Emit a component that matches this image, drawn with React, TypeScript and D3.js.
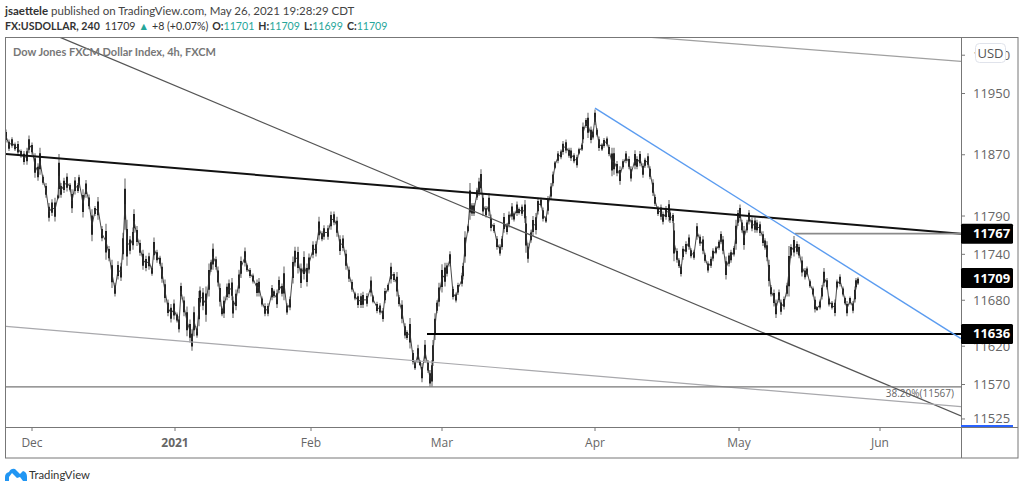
import { useMemo } from 'react';
import * as d3 from 'd3';

const WIDTH = 1024;
const HEIGHT = 490;
const FONT = '"Open Sans", "Noto Sans", sans-serif';
const HEADER_FONT = 'Lato, "Open Sans", sans-serif';
const PANE = { left: 6, right: 961, top: 37, bottom: 427, outerRight: 1018, outerBottom: 458 };

const barNums = [
    0, 3, 6, 9, 12, 15, 18, 21, 23, 26, 29, 32, 34, 37, 40, 43, 46, 49, 52, 53, 55, 58, 61, 64, 66, 69, 72, 73, 77, 80, 83, 86, 89, 92,
    96, 100, 103, 106, 109, 112, 115, 117, 119, 121, 124, 127, 128, 131, 134, 137, 140, 143, 146, 148, 151, 154, 156, 159, 162, 165, 168, 171, 173,
    175, 178, 181, 184, 186, 188, 191, 193, 194, 197, 200, 203, 205, 207, 210, 212, 214, 216, 218, 221, 223, 226, 227, 230, 233, 235, 239, 241, 244,
    247, 251, 253, 256, 259, 262, 266, 268, 271, 273, 276, 278, 281, 284, 287, 289, 292, 295, 298, 301, 303, 307, 310, 313, 316, 318, 322, 325, 328,
    331, 334, 337, 340, 343, 346, 349, 352, 355, 357, 361, 365, 367, 371, 374, 377, 379, 382, 385, 388, 391, 393, 396, 399, 401, 404, 407, 409, 412,
    414, 416, 419, 422, 424, 426, 427, 429, 431, 433, 436, 439, 441, 444, 447, 450, 452, 456, 457, 459, 462, 464, 466, 468, 471, 473, 475, 477, 480,
    483, 485, 488, 491, 494, 496, 498, 501, 503, 506, 508, 511, 513, 516, 519, 520, 522, 525, 527, 530, 532, 535, 537, 540, 542, 545, 547, 549, 552,
    555, 557, 560, 563, 565, 568, 571, 573, 576, 577, 580, 582, 585, 587, 589, 591, 593, 596, 598, 601, 603, 606, 608, 611, 614, 617, 620, 623, 625,
    629, 631, 634, 637, 639, 642, 644, 647, 649, 652, 655, 657, 660, 663, 664, 667, 668, 671, 673, 675, 677, 680, 683, 685, 688, 691, 694, 697, 699,
    702, 705, 707, 710, 713, 715, 717, 720, 723, 725, 728, 730, 732, 734, 736, 738, 741, 743, 746, 749, 751, 754, 757, 759, 761, 763, 765, 768, 770,
    773, 775, 778, 781, 783, 785, 788, 791, 793, 796, 799, 801, 804, 807, 809, 811, 814, 816, 818, 821, 823, 826, 829, 831, 834, 837, 839, 841, 844,
    847, 849, 850, 852,
];
const highs = [
    11903, 11890, 11893, 11886, 11888, 11877, 11875, 11879, 11895, 11886, 11872, 11859, 11879, 11844, 11833, 11807, 11812, 11814, 11818, 11871, 11833, 11840, 11846, 11833, 11825, 11841, 11833, 11844, 11825, 11837, 11818, 11799, 11803, 11815,
    11777, 11780, 11751, 11733, 11703, 11731, 11729, 11768, 11839, 11785, 11764, 11775, 11799, 11777, 11759, 11746, 11738, 11742, 11725, 11762, 11746, 11738, 11729, 11707, 11681, 11675, 11681, 11664, 11659,
    11703, 11685, 11672, 11655, 11642, 11672, 11646, 11692, 11698, 11696, 11698, 11728, 11733, 11754, 11737, 11724, 11702, 11672, 11685, 11702, 11707, 11709, 11685, 11694, 11720, 11737, 11749, 11728, 11722,
    11715, 11707, 11709, 11685, 11676, 11676, 11700, 11694, 11694, 11711, 11702, 11724, 11676, 11685, 11737, 11750, 11750, 11728, 11744, 11728, 11741, 11757, 11757, 11789, 11770, 11778, 11778, 11796, 11796,
    11789, 11765, 11765, 11746, 11724, 11707, 11691, 11689, 11689, 11691, 11689, 11711, 11687, 11678, 11676, 11670, 11696, 11702, 11729, 11717, 11717, 11687, 11680, 11650, 11641, 11657, 11615, 11600, 11622,
    11602, 11598, 11628, 11602, 11589, 11602, 11628, 11663, 11680, 11703, 11727, 11729, 11729, 11744, 11698, 11690, 11703, 11716, 11729, 11770, 11779, 11833, 11807, 11807, 11827, 11840, 11851, 11820, 11803,
    11820, 11792, 11781, 11764, 11753, 11764, 11794, 11781, 11796, 11807, 11796, 11809, 11801, 11805, 11811, 11790, 11755, 11772, 11790, 11794, 11814, 11814, 11801, 11790, 11816, 11833, 11848, 11862, 11875,
    11877, 11888, 11890, 11879, 11879, 11872, 11870, 11879, 11885, 11912, 11918, 11925, 11907, 11903, 11929, 11905, 11894, 11885, 11892, 11894, 11883, 11879, 11879, 11862, 11855, 11864, 11875, 11868, 11855,
    11876, 11868, 11875, 11859, 11866, 11872, 11855, 11838, 11818, 11803, 11805, 11796, 11803, 11811, 11798, 11794, 11781, 11748, 11735, 11727, 11751, 11757, 11766, 11748, 11746, 11781, 11766, 11764, 11742,
    11731, 11737, 11748, 11751, 11759, 11770, 11764, 11737, 11742, 11746, 11751, 11785, 11798, 11805, 11785, 11777, 11785, 11798, 11788, 11788, 11785, 11783, 11770, 11761, 11757, 11733, 11700, 11694, 11681,
    11694, 11681, 11685, 11703, 11751, 11753, 11764, 11757, 11753, 11737, 11722, 11724, 11707, 11698, 11685, 11672, 11681, 11700, 11722, 11709, 11685, 11679, 11681, 11707, 11714, 11698, 11685, 11679, 11685,
    11679, 11698, 11709, 11710,
];
const lows = [
    11886, 11875, 11879, 11875, 11869, 11866, 11857, 11857, 11872, 11870, 11840, 11836, 11844, 11831, 11814, 11783, 11790, 11783, 11812, 11814, 11814, 11820, 11822, 11822, 11794, 11818, 11820, 11827, 11788, 11814, 11799, 11757, 11790, 11785,
    11757, 11733, 11731, 11696, 11685, 11707, 11705, 11733, 11772, 11725, 11740, 11746, 11768, 11751, 11738, 11720, 11718, 11720, 11712, 11733, 11729, 11725, 11703, 11677, 11659, 11651, 11655, 11651, 11638,
    11681, 11659, 11633, 11625, 11614, 11633, 11631, 11646, 11672, 11667, 11652, 11685, 11717, 11720, 11720, 11698, 11672, 11659, 11657, 11680, 11683, 11680, 11657, 11667, 11689, 11709, 11724, 11717, 11709,
    11702, 11685, 11685, 11672, 11659, 11659, 11680, 11683, 11670, 11689, 11685, 11680, 11661, 11667, 11702, 11724, 11715, 11696, 11707, 11698, 11715, 11735, 11737, 11759, 11757, 11759, 11759, 11772, 11778,
    11763, 11739, 11744, 11720, 11704, 11691, 11680, 11670, 11670, 11670, 11672, 11685, 11676, 11663, 11661, 11652, 11676, 11691, 11702, 11704, 11685, 11672, 11650, 11630, 11628, 11617, 11596, 11589, 11598,
    11594, 11573, 11598, 11585, 11567, 11567, 11594, 11628, 11663, 11672, 11690, 11698, 11711, 11724, 11681, 11677, 11687, 11698, 11707, 11729, 11768, 11785, 11790, 11790, 11811, 11816, 11820, 11790, 11788,
    11790, 11770, 11768, 11746, 11738, 11746, 11768, 11766, 11775, 11785, 11783, 11790, 11792, 11790, 11781, 11742, 11729, 11755, 11764, 11766, 11792, 11801, 11783, 11781, 11792, 11811, 11829, 11851, 11859,
    11864, 11870, 11872, 11866, 11862, 11859, 11853, 11870, 11875, 11885, 11905, 11892, 11885, 11890, 11909, 11894, 11875, 11875, 11879, 11881, 11868, 11842, 11844, 11842, 11831, 11851, 11859, 11851, 11835,
    11851, 11851, 11855, 11840, 11853, 11853, 11838, 11816, 11803, 11790, 11785, 11779, 11785, 11783, 11781, 11781, 11731, 11729, 11722, 11711, 11733, 11740, 11746, 11735, 11733, 11759, 11751, 11740, 11729,
    11716, 11722, 11731, 11740, 11746, 11753, 11740, 11707, 11724, 11729, 11737, 11746, 11777, 11783, 11768, 11746, 11768, 11779, 11770, 11768, 11768, 11764, 11751, 11746, 11731, 11698, 11685, 11672, 11657,
    11677, 11661, 11668, 11685, 11685, 11735, 11737, 11740, 11735, 11711, 11707, 11711, 11696, 11685, 11664, 11666, 11668, 11681, 11698, 11694, 11672, 11668, 11659, 11694, 11698, 11685, 11674, 11659, 11674,
    11663, 11677, 11694, 11700,
];

// axis contents
const yTicks = [12000, 11950, 11870, 11790, 11740, 11680, 11620, 11570, 11525];
const monthLabels = ['Dec', '2021', 'Feb', 'Mar', 'Apr', 'May', 'Jun'];
const monthBars = [26, 169, 305, 436, 589, 733, 874];
const markerPrices = [11767, 11709, 11636];

// drawings on the chart, as [bar, price] ends
const lastBar = 955;
const trendLines = [
    { from: [53, 12024], to: [lastBar, 11529], color: '#555', w: 1.2 },
    { from: [639, 12024], to: [lastBar, 11992], color: '#a0a0a0', w: 1.2 },
    { from: [0, 11871], to: [lastBar, 11767], color: '#111', w: 2 },
    { from: [0, 11646], to: [lastBar, 11541], color: '#a8a8ac', w: 1.2 },
    { from: [0, 11567], to: [lastBar, 11567], color: '#777', w: 1.2 },
    { from: [421, 11636], to: [lastBar, 11636], color: '#000', w: 2 },
    { from: [789, 11767], to: [lastBar, 11767], color: '#8a8a8a', w: 1.6 },
    { from: [589, 11931], to: [lastBar, 11630], color: '#5b9cf0', w: 1.4 },
];

const App = () => {
    const xScale = useMemo(() => d3.scaleLinear().domain([0, lastBar]).range([PANE.left, PANE.right]), []);
    const yScale = useMemo(() => d3.scaleLinear().domain([11570, 11950]).range([384.5, 93.5]), []);

    const midPath = useMemo(() => {
        return d3
            .line<number>()
            .x((d) => xScale(d))
            .y((_, i) => yScale((highs[i] + lows[i]) / 2))(barNums);
    }, [xScale, yScale]);

    return (
        <svg
            width={WIDTH}
            height={HEIGHT}
            viewBox={`0 0 ${WIDTH} ${HEIGHT}`}
            style={{ position: 'fixed', left: 0, top: 0, background: '#fff' }}
            fontFamily={FONT}
        >
            {/* header */}
            <text x={5} y={15} fontSize={11.5} fill="#444" fontFamily={HEADER_FONT}>
                <tspan fontWeight={700} fill="#333">jsaettele</tspan> published on TradingView.com, May 26, 2021 19:28:29 CDT
            </text>
            <text x={5} y={29.5} fontSize={10.6} fill="#333" fontFamily={HEADER_FONT}>
                <tspan fontWeight={700}>FX:USDOLLAR, 240</tspan>
                <tspan dx={5}>11709</tspan>
                <tspan dx={3} fill="#26a69a">▲</tspan>
                <tspan dx={3}>+8 (+0.07%)</tspan>
                <tspan dx={4} fontWeight={700}>O:</tspan>
                <tspan fill="#26a69a">11701</tspan>
                <tspan dx={4} fontWeight={700}>H:</tspan>
                <tspan fill="#26a69a">11709</tspan>
                <tspan dx={4} fontWeight={700}>L:</tspan>
                <tspan fill="#26a69a">11699</tspan>
                <tspan dx={4} fontWeight={700}>C:</tspan>
                <tspan fill="#26a69a">11709</tspan>
            </text>

            {/* price bars */}
            <g clipPath="url(#pane)">
                <clipPath id="pane">
                    <rect x={PANE.left} y={PANE.top} width={PANE.right - PANE.left} height={PANE.bottom - PANE.top} />
                </clipPath>
                {barNums.map((b, i) => (
                    <line key={i} x1={xScale(b)} x2={xScale(b)} y1={yScale(highs[i])} y2={yScale(lows[i])} stroke="#777" strokeWidth={1.2} />
                ))}
                {barNums.map((b, i) => {
                    // candle body, the inner part of the bar's range
                    const range = highs[i] - lows[i];
                    return (
                        <line
                            key={i}
                            x1={xScale(b)}
                            x2={xScale(b)}
                            y1={yScale(highs[i] - range * 0.2)}
                            y2={yScale(lows[i] + range * 0.2)}
                            stroke="#000"
                            strokeWidth={1.6}
                        />
                    );
                })}
                <path d={midPath || ''} fill="none" stroke="#333" strokeWidth={0.9} strokeLinejoin="round" />
                {trendLines.map((t, i) => (
                    <line
                        key={i}
                        x1={xScale(t.from[0])}
                        y1={yScale(t.from[1])}
                        x2={xScale(t.to[0])}
                        y2={yScale(t.to[1])}
                        stroke={t.color}
                        strokeWidth={t.w}
                    />
                ))}
            </g>
            <text x={PANE.left + 7} y={56} fontSize={11} fontWeight={700} fill="#777" fontFamily={HEADER_FONT}>
                Dow Jones FXCM Dollar Index, 4h, FXCM
            </text>
            <text x={954} y={397} fontSize={10} fill="#666" textAnchor="end">
                38.20%(11567)
            </text>

            {/* frame */}
            <rect x={5.5} y={37.5} width={PANE.outerRight - 5.5} height={PANE.outerBottom - 37.5} fill="none" stroke="#777" />
            <line x1={PANE.right + 0.5} x2={PANE.right + 0.5} y1={37} y2={PANE.outerBottom} stroke="#777" />
            <line x1={5} x2={PANE.outerRight} y1={PANE.bottom + 0.5} y2={PANE.bottom + 0.5} stroke="#777" />

            {/* price axis */}
            {yTicks.map((t) => (
                <g key={t} transform={`translate(${PANE.right},${yScale(t)})`}>
                    <line x2={4} stroke="#777" />
                    <text x={12} y={4.5} fontSize={13} fill="#666">{t}</text>
                </g>
            ))}
            <rect x={975.5} y={43.5} width={30} height={19} rx={4} fill="#fff" stroke="#e0e3eb" />
            <text x={990.5} y={57.5} fontSize={13} fill="#555" textAnchor="middle">USD</text>
            <line x1={PANE.right} x2={1013} y1={426} y2={426} stroke="#2962ff" strokeWidth={2} />
            {markerPrices.map((p) => (
                <g key={p} transform={`translate(${PANE.right},${yScale(p)})`}>
                    <rect y={-10} width={52} height={20} rx={1.5} fill="#000" />
                    <text x={12} y={4.5} fontSize={13} fontWeight={700} fill="#fff">{p}</text>
                </g>
            ))}

            {/* time axis */}
            {monthBars.map((b, i) => (
                <g key={b} transform={`translate(${xScale(b)},${PANE.bottom})`}>
                    <line y2={4} stroke="#777" />
                    <text y={20} fontSize={12} textAnchor="middle" fill="#666" fontWeight={monthLabels[i] === '2021' ? 700 : 400}>
                        {monthLabels[i]}
                    </text>
                </g>
            ))}

            {/* footer logo */}
            <path d="M5 481 L5 477 Q5 473 9 472 Q11 468 15 469 L20 474 L23 471 Q27 472 27 477 L27 481 L23 481 L20 477 L17 478 L12 473 L9 477 L9 481 Z" fill="#2196f3" />
            <text x={29} y={479} fontSize={11.3} fill="#333" fontFamily={HEADER_FONT}>TradingView</text>
        </svg>
    );
};

export default App;
